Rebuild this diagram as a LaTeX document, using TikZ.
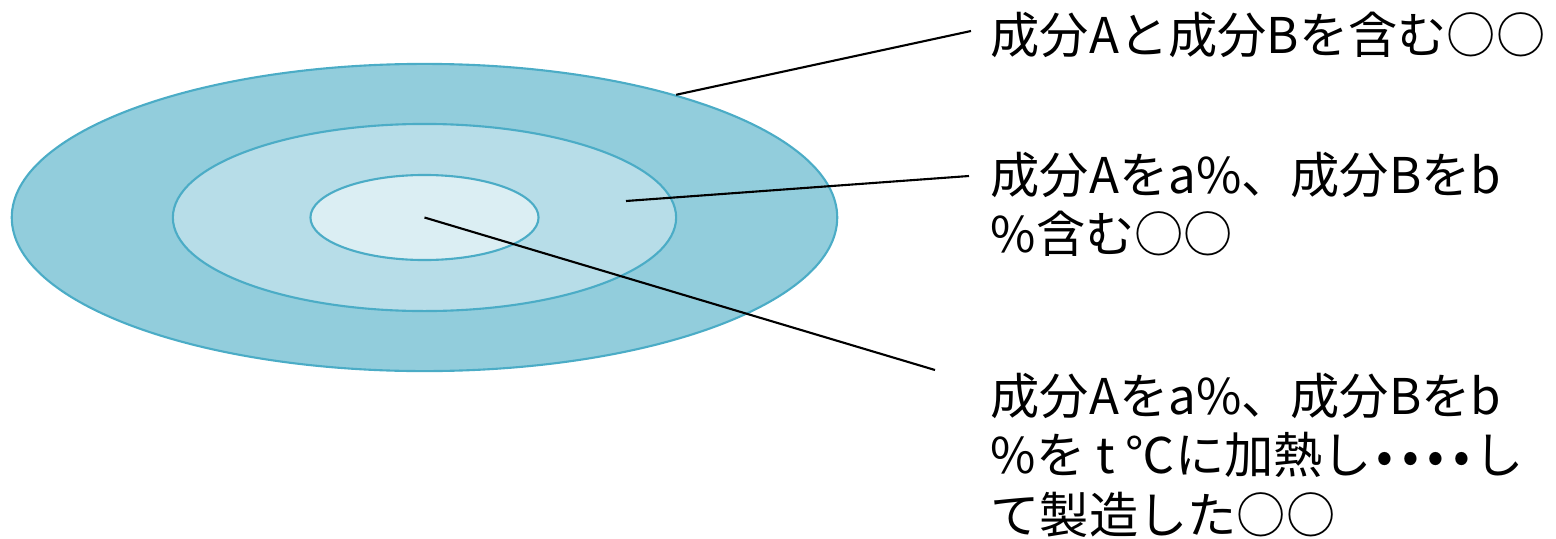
\documentclass[tikz,border=0pt]{standalone}
\usepackage{fontspec}
\setmainfont{Noto Sans CJK JP}
\usepackage{xcolor}
\usepackage{tikz}
\usetikzlibrary{positioning, shapes.geometric}
\definecolor{bleufonce}{RGB}{146, 205, 220}
\definecolor{bleumoyen}{RGB}{183, 221, 232}
\definecolor{bleupale}{RGB}{219, 238, 243}
\definecolor{bordbleu}{RGB}{75, 172, 198}
\newcommand{\pt}{\makebox[0.52em]{•}}
\tikzset{
  anneau/.style={ellipse, draw=bordbleu, line width=0.6pt, inner sep=0pt},
  etiquette/.style={anchor=north west, inner sep=0pt, align=left,
    font=\fontsize{14pt}{17pt}\selectfont},
  trait/.style={black, line width=0.6pt}
}

\begin{document}
\begin{tikzpicture}[x=0.01cm, y=-0.01cm]
    \useasboundingbox (0,0) rectangle (1556,539);
    % trois anneaux, du plus grand au plus petit
    \foreach \nom/\lx/\ly/\teinte in {ext/8.25/3.07/bleufonce, mil/5.03/1.87/bleumoyen, int/2.28/0.85/bleupale}{
      \node[anneau, fill=\teinte, minimum width=\lx cm, minimum height=\ly cm] (\nom) at (424.5,217.5) {};
    }
    % étiquettes
    \node[etiquette] (t1) at (990,11) {成分Aと成分Bを含む○○};
    \node[etiquette] (t2) at (990,151) {成分Aをa\%、成分Bをb\\\%含む○○};
    \node[etiquette] (t3) at (990,372) {成分Aをa\%、成分Bをb\\\%を t {\addfontfeatures{RawFeature=+fwid}℃}に加熱し\pt\pt\pt\pt し\\て製造した○○};
    % traits de rappel
    \coordinate (d2) at (626,201);
    \coordinate (f1) at (971,31);
    \coordinate (f2) at (969,176);
    \coordinate (f3) at (935,370);
    \draw[trait] (ext.26) -- (f1);
    \draw[trait] (d2) -- (f2);
    \draw[trait] (int.center) -- (f3);
  \end{tikzpicture}
\end{document}
